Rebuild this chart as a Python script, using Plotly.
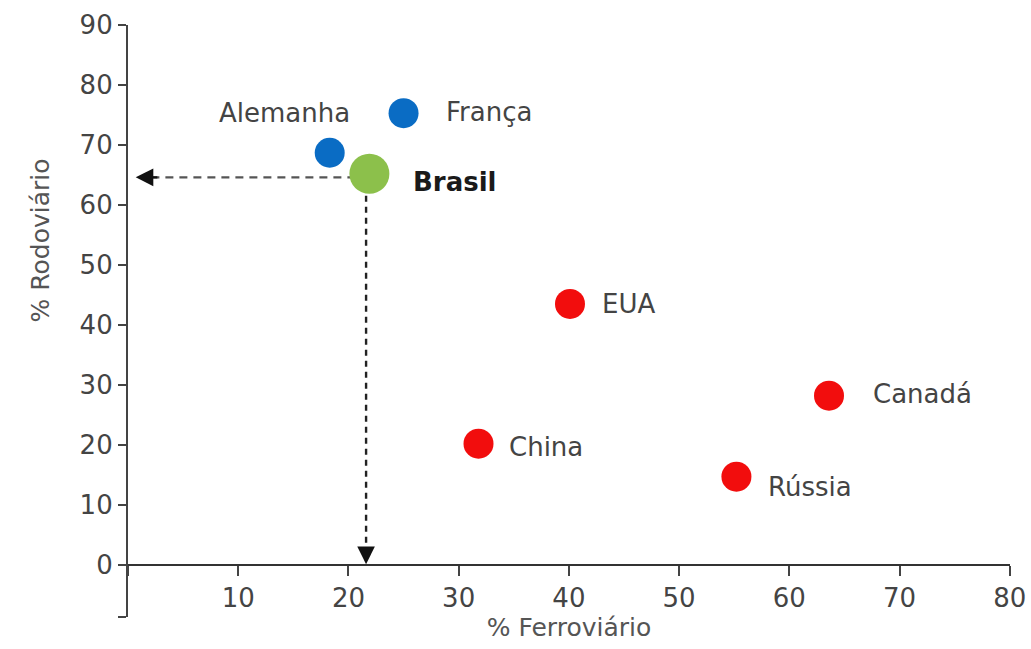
import plotly.graph_objects as go

countries = ["França", "Alemanha", "Brasil", "EUA", "China", "Canadá", "Rússia"]
ferroviario = [25.0, 18.3, 21.9, 40.1, 31.8, 63.6, 55.2]
rodoviario = [75.3, 68.7, 65.2, 43.5, 20.2, 28.2, 14.7]
colors = ["#0a6cc4", "#0a6cc4", "#8cc04b", "#f20d0d", "#f20d0d", "#f20d0d", "#f20d0d"]
sizes = [30, 30, 40, 30, 30, 30, 30]

x_ticks = [0, 10, 20, 30, 40, 50, 60, 70, 80]
x_ticktext = ["", "10", "20", "30", "40", "50", "60", "70", "80"]
y_ticks = [-8.7, 0, 10, 20, 30, 40, 50, 60, 70, 80, 90]
y_ticktext = ["", "0", "10", "20", "30", "40", "50", "60", "70", "80", "90"]

# label offsets (pixels) relative to each point
label_shift = {
    "França": (40, 1, "left"),
    "Alemanha": (22, 40, "right"),
    "Brasil": (42, -8, "left"),
    "EUA": (30, 0, "left"),
    "China": (28, -3, "left"),
    "Canadá": (42, 2, "left"),
    "Rússia": (30, -10, "left"),
}

Y_MIN, Y_MAX = -8.7, 90
FONT = "DejaVu Sans, Verdana, sans-serif"

fig = go.Figure()

bx, by = ferroviario[2], rodoviario[2]
arrow_y = 64.6
# dashed guide lines from Brasil
fig.add_trace(go.Scatter(x=[bx, 1.6], y=[arrow_y, arrow_y], mode="lines",
                         line=dict(color="#555555", width=2.2, dash="8px,6px"),
                         hoverinfo="skip", showlegend=False))
fig.add_trace(go.Scatter(x=[bx - 0.3, bx - 0.3], y=[by, 2.0], mode="lines",
                         line=dict(color="#222222", width=2.4, dash="6px,5px"),
                         hoverinfo="skip", showlegend=False))

fig.add_trace(go.Scatter(
    x=ferroviario, y=rodoviario, mode="markers",
    marker=dict(color=colors, size=sizes, line=dict(width=0), opacity=1),
    text=countries, hoverinfo="text", showlegend=False))

# arrowheads
fig.add_annotation(x=0.7, y=arrow_y, ax=2.8, ay=arrow_y, axref="x", ayref="y",
                   xref="x", yref="y", showarrow=True, arrowhead=2, arrowsize=1.6,
                   arrowwidth=2.2, arrowcolor="#111111", text="")
fig.add_annotation(x=bx - 0.3, y=0.1, ax=bx - 0.3, ay=3.0, axref="x", ayref="y",
                   xref="x", yref="y", showarrow=True, arrowhead=2, arrowsize=1.6,
                   arrowwidth=2.2, arrowcolor="#111111", text="")

for c, xv, yv in zip(countries, ferroviario, rodoviario):
    dx, dy, anchor = label_shift[c]
    fig.add_annotation(x=xv, y=yv, xref="x", yref="y", text=(f"<b>{c}</b>" if c == "Brasil" else c),
                       showarrow=False, xanchor=anchor, yanchor="middle",
                       xshift=dx, yshift=dy,
                       font=dict(family=FONT, size=26, color="#1a1a1a" if c == "Brasil" else "#444444"))

# y axis title
fig.add_annotation(x=0, y=54, xref="paper", yref="y", text="% Rodoviário",
                   textangle=-90, showarrow=False, xshift=-104,
                   font=dict(family=FONT, size=25, color="#555555"))

x_pos = (0 - Y_MIN) / (Y_MAX - Y_MIN)

fig.update_layout(
    width=1031, height=649,
    margin=dict(l=128, r=21, t=25, b=32),
    plot_bgcolor="white", paper_bgcolor="white",
    template="none",
    xaxis=dict(range=[0, 80.02], anchor="free", position=x_pos, showgrid=False, zeroline=False,
               showline=True, linecolor="#333333", linewidth=2.2,
               ticks="outside", ticklen=10, tickwidth=2.2, tickcolor="#444444",
               tickvals=x_ticks, ticktext=x_ticktext,
               tickfont=dict(family=FONT, size=26, color="#444444"),
               title=dict(text="% Ferroviário", font=dict(family=FONT, size=25, color="#555555"),
                          standoff=0),
               automargin=False),
    yaxis=dict(range=[Y_MIN, Y_MAX], showgrid=False, zeroline=False,
               showline=True, linecolor="#444444", linewidth=2.2,
               ticks="outside", ticklen=8, tickwidth=2.2, tickcolor="#444444",
               tickvals=y_ticks, ticktext=y_ticktext,
               tickfont=dict(family=FONT, size=26, color="#444444"),
               automargin=False),
    font=dict(family=FONT),
)

fig.write_html("out.html", config={"displayModeBar": False},
               post_script="document.body.style.margin='0';document.body.style.overflow='hidden';")
